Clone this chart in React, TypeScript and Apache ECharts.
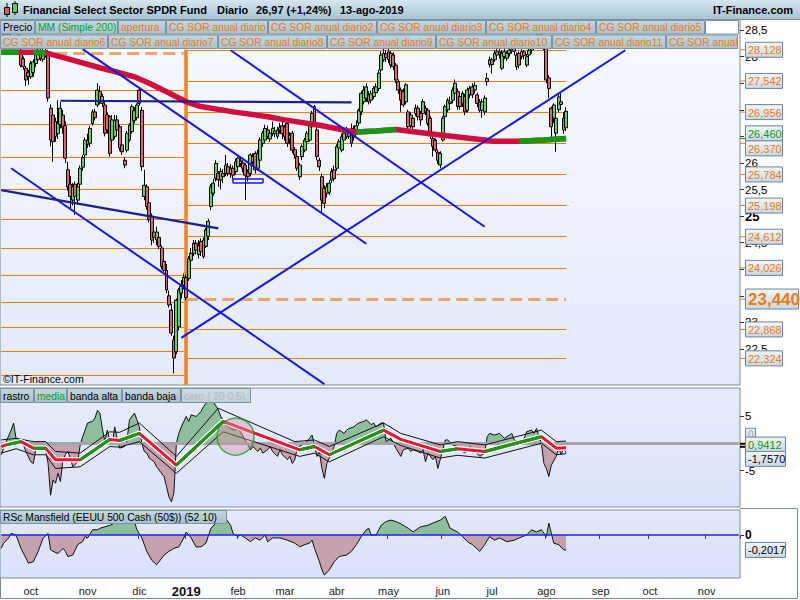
import React, { useEffect, useRef, useState } from 'react';
import * as echarts from 'echarts';

// ---------------- categories (trading days) ----------------
const FIRST_DAY = '2018-09-13';
const LAST_DAY = '2019-11-20';
const HOLIDAYS = ['2018-11-22', '2018-12-05', '2018-12-25', '2019-01-01', '2019-01-21', '2019-02-18', '2019-04-19', '2019-05-27', '2019-07-04', '2019-09-02'];
const MONTH_ABBR = ['ene', 'feb', 'mar', 'abr', 'may', 'jun', 'jul', 'ago', 'sep', 'oct', 'nov', 'dic'];

// ---------------- price candles [open, close, low, high] ----------------
const OHLC_SEP_OCT = [
  [28.35, 28.45, 28.25, 28.55], [28.45, 28.5, 28.35, 28.6], [28.5, 28.4, 28.3, 28.6], [28.4, 28.6, 28.35, 28.65],
  [28.6, 28.75, 28.55, 28.85], [28.75, 28.8, 28.65, 28.95], [28.8, 28.65, 28.55, 28.9], [28.6, 28.4, 28.3, 28.65],
  [28.12, 27.84, 27.8, 28.2], [27.96, 27.81, 27.75, 28.0], [27.78, 27.56, 27.45, 27.82], [27.7, 27.62, 27.47, 27.75],
  [27.62, 27.87, 27.58, 27.92], [27.7, 27.9, 27.62, 27.95], [27.87, 28.06, 27.8, 28.12], [27.94, 28.12, 27.9, 28.2],
  [28.1, 27.97, 27.92, 28.18], [27.95, 28.09, 27.9, 28.15], [28.05, 28.12, 27.98, 28.2], [28.06, 27.22, 27.15, 28.1],
  [27.03, 26.43, 26.31, 27.1], [26.9, 26.4, 26.02, 26.95], [26.5, 26.78, 26.4, 26.85], [26.55, 26.74, 26.45, 27.18],
  [26.72, 27.03, 26.65, 27.15], [26.9, 26.66, 26.55, 27.0], [26.7, 26.09, 26.0, 26.78], [25.87, 25.55, 25.48, 26.02],
  [25.6, 25.37, 25.15, 25.75], [25.3, 25.55, 25.2, 25.62], [25.6, 25.37, 25.02, 25.65], [25.3, 25.55, 25.22, 25.62],
  [25.6, 25.9, 25.55, 25.95], [25.92, 26.1, 25.85, 26.15], [26.15, 26.43, 26.1, 26.48],
];
const OHLC_NOV_DEC = [
  [26.43, 26.35, 26.28, 26.55], [26.37, 26.65, 26.3, 26.7], [26.74, 26.96, 26.7, 27.0], [26.96, 26.85, 26.8, 27.02],
  [27.09, 27.37, 27.05, 27.5], [27.34, 27.15, 27.1, 27.45], [27.12, 27.25, 27.05, 27.3], [27.09, 26.56, 26.5, 27.15],
  [26.9, 26.62, 26.55, 26.95], [26.87, 26.18, 26.12, 26.9], [26.43, 26.81, 26.35, 26.9], [26.5, 26.8, 26.45, 26.9],
  [26.81, 26.62, 26.55, 26.9], [26.68, 26.28, 26.22, 26.72], [26.34, 26.21, 26.15, 26.4], [26.05, 25.96, 25.9, 26.1],
  [26.24, 26.56, 26.2, 26.6], [26.43, 26.71, 26.4, 26.75], [26.59, 27.06, 26.55, 27.1], [26.8, 26.98, 26.74, 27.05],
  [26.85, 27.09, 26.8, 27.12], [27.37, 27.12, 27.08, 27.43], [26.99, 25.93, 25.85, 27.05], [25.37, 25.58, 25.3, 25.87],
  [25.55, 25.18, 25.12, 25.6], [25.25, 24.93, 24.88, 25.3], [25.0, 24.55, 24.45, 25.05], [24.7, 24.6, 24.5, 24.9],
  [24.55, 24.7, 24.45, 24.8], [24.6, 24.43, 24.38, 24.65], [24.4, 24.05, 24.0, 24.45], [24.15, 23.98, 23.92, 24.3],
  [23.98, 23.61, 23.55, 24.1], [23.5, 23.33, 23.28, 23.6], [23.23, 22.8, 22.75, 23.35], [22.67, 22.33, 22.04, 22.75],
  [22.45, 23.42, 22.4, 23.45], [22.92, 23.61, 22.85, 23.65], [23.55, 23.68, 23.45, 23.8], [23.7, 23.85, 23.62, 23.92],
];
const OHLC_JAN_MAR = [
  [23.84, 23.47, 23.42, 23.9], [23.83, 24.2, 23.78, 24.25], [24.17, 24.3, 24.1, 24.4], [24.3, 24.49, 24.25, 24.55],
  [24.49, 24.36, 24.28, 24.55], [24.28, 24.45, 24.2, 24.55], [24.52, 24.33, 24.25, 24.58], [24.24, 24.55, 24.2, 24.6],
  [24.43, 24.74, 24.4, 24.78], [24.62, 24.9, 24.55, 24.95], [25.18, 25.55, 25.11, 25.6], [25.43, 25.62, 25.38, 25.7],
  [25.71, 25.99, 25.65, 26.05], [25.8, 25.68, 25.55, 25.85], [25.68, 25.84, 25.5, 25.9], [25.8, 25.74, 25.62, 25.88],
  [25.8, 25.96, 25.75, 26.15], [25.93, 25.8, 25.75, 26.0], [25.8, 25.9, 25.72, 25.98], [25.9, 25.77, 25.7, 25.95],
  [25.84, 26.02, 25.78, 26.08], [25.93, 26.09, 25.88, 26.12], [26.04, 25.99, 25.92, 26.1], [26.0, 25.9, 25.82, 26.05],
  [25.96, 25.77, 25.3, 26.0], [25.83, 25.74, 25.65, 25.88], [25.8, 26.15, 25.75, 26.18], [26.02, 26.12, 25.98, 26.18],
  [26.18, 25.87, 25.8, 26.22], [25.9, 26.18, 25.85, 26.25], [26.05, 26.43, 26.0, 26.48], [26.37, 26.56, 26.3, 26.6],
  [26.43, 26.65, 26.4, 26.72], [26.62, 26.5, 26.45, 26.7], [26.45, 26.56, 26.4, 26.62], [26.55, 26.65, 26.5, 26.78],
  [26.55, 26.6, 26.48, 26.68], [26.5, 26.62, 26.45, 26.68], [26.62, 26.66, 26.55, 26.75], [26.7, 26.55, 26.45, 26.78],
  [26.68, 26.5, 26.42, 26.72], [26.74, 26.37, 26.3, 26.78], [26.45, 26.52, 26.35, 26.58], [26.56, 26.24, 26.18, 26.6],
  [26.25, 26.15, 26.08, 26.3], [26.12, 25.9, 25.85, 26.15], [25.74, 25.96, 25.68, 26.0], [26.12, 26.31, 26.05, 26.35],
  [26.24, 26.43, 26.2, 26.47], [26.4, 26.56, 26.35, 26.6], [26.43, 26.74, 26.4, 26.78], [26.68, 26.93, 26.62, 26.98],
  [27.06, 26.74, 26.7, 27.09], [26.62, 26.12, 26.05, 26.68], [26.05, 25.93, 25.85, 26.1], [25.74, 25.3, 25.08, 25.8],
  [25.52, 25.24, 25.15, 25.58], [25.43, 25.55, 25.35, 25.62], [25.45, 25.62, 25.4, 25.68], [25.68, 25.84, 25.62, 25.9],
  [25.87, 25.7, 25.65, 25.95],
];
const OHLC_APR_JUN = [
  [25.9, 26.31, 25.85, 26.35], [26.28, 26.4, 26.22, 26.45], [26.24, 26.49, 26.2, 26.55], [26.43, 26.56, 26.38, 26.62],
  [26.62, 26.49, 26.45, 26.68], [26.5, 26.55, 26.45, 26.62], [26.52, 26.37, 26.3, 26.74], [26.49, 26.65, 26.42, 26.7],
  [26.62, 26.7, 26.55, 26.8], [26.75, 26.99, 26.7, 27.02], [26.96, 27.31, 26.9, 27.35], [27.15, 27.37, 27.1, 27.45],
  [27.22, 27.43, 27.15, 27.5], [27.28, 27.15, 27.1, 27.35], [27.18, 27.3, 27.12, 27.36], [27.25, 27.4, 27.2, 27.45],
  [27.32, 27.43, 27.28, 27.5], [27.4, 27.69, 27.35, 27.75], [27.75, 28.03, 27.7, 28.1], [27.94, 28.06, 27.9, 28.15],
  [28.05, 27.98, 27.9, 28.12], [28.09, 27.94, 27.88, 28.15], [27.84, 28.06, 27.78, 28.1], [28.03, 27.81, 27.75, 28.08],
  [27.84, 27.56, 27.5, 27.88], [27.53, 27.37, 27.3, 27.57], [27.37, 27.18, 26.96, 27.42], [27.34, 27.09, 27.05, 27.4],
  [27.15, 27.47, 27.1, 27.5], [26.96, 26.68, 26.6, 27.0], [26.71, 26.9, 26.65, 26.95], [26.84, 26.68, 26.55, 26.88],
  [26.93, 27.03, 26.88, 27.1], [27.03, 26.87, 26.8, 27.08], [26.93, 26.81, 26.7, 26.98], [26.93, 27.15, 26.88, 27.2],
  [27.03, 26.96, 26.9, 27.08], [26.99, 26.74, 26.7, 27.03], [26.84, 26.55, 26.45, 26.88], [26.46, 26.31, 26.12, 26.5],
  [26.43, 26.24, 26.2, 26.46], [26.2, 26.05, 25.98, 26.25], [25.96, 26.18, 25.9, 26.22], [26.43, 26.84, 26.4, 26.88],
  [26.87, 27.06, 26.82, 27.1], [27.0, 27.18, 26.95, 27.22], [27.15, 27.12, 27.05, 27.25], [27.18, 27.37, 27.12, 27.42],
  [27.31, 27.5, 27.25, 27.57], [27.34, 27.06, 27.0, 27.4], [27.25, 27.06, 27.0, 27.3], [27.12, 27.31, 27.05, 27.35],
  [27.25, 26.96, 26.9, 27.3], [26.99, 27.37, 26.95, 27.42], [27.28, 27.4, 27.22, 27.45], [27.43, 27.28, 27.22, 27.5],
  [27.37, 27.46, 27.3, 27.52], [27.28, 27.12, 27.05, 27.32], [27.15, 26.99, 26.95, 27.2], [26.99, 27.15, 26.85, 27.2],
  [26.96, 27.22, 26.9, 27.27], [27.53, 27.59, 27.45, 27.69], [27.85, 27.94, 27.8, 28.0],
];
const OHLC_JUL_AUG = [
  [27.94, 27.85, 27.68, 27.98], [27.94, 28.06, 27.9, 28.12], [28.03, 28.09, 27.98, 28.15], [28.09, 28.04, 27.96, 28.14],
  [27.78, 28.06, 27.75, 28.12], [28.0, 28.09, 27.95, 28.15], [27.97, 28.06, 27.92, 28.1], [28.06, 28.12, 28.0, 28.2],
  [28.12, 28.16, 28.05, 28.22], [28.16, 28.1, 28.02, 28.2], [27.81, 28.03, 27.75, 28.08], [28.06, 27.84, 27.78, 28.1],
  [28.0, 28.09, 27.95, 28.14], [28.09, 28.02, 27.95, 28.12], [27.84, 28.0, 27.8, 28.05], [28.03, 28.12, 27.98, 28.18],
  [28.12, 28.22, 28.05, 28.3], [28.22, 28.32, 28.15, 28.4], [28.32, 28.28, 28.18, 28.42], [28.28, 28.38, 28.22, 28.45],
  [28.38, 28.3, 28.22, 28.45], [28.3, 28.19, 28.12, 28.38], [28.19, 27.56, 27.5, 28.3], [27.6, 27.4, 27.22, 27.65],
  [27.03, 26.68, 26.47, 27.06], [26.84, 27.09, 26.75, 27.12], [26.56, 26.84, 26.21, 26.88], [27.0, 27.24, 26.95, 27.3],
  [27.1, 27.15, 27.0, 27.31], [26.84, 26.62, 26.55, 26.95], [26.66, 26.97, 26.6, 27.05],
];

// ---------------- MM (Simple 200) [dayIndex, value] ----------------
const MA200 = [
  [0, 28.08], [7, 28.08], [13, 28.08], [18, 28.07], [26, 27.97], [40, 27.79], [46, 27.72], [54, 27.62], [60, 27.5],
  [67, 27.34], [75, 27.15], [81, 27.06], [94, 26.96], [108, 26.87], [115, 26.81], [129, 26.71], [142, 26.59],
  [144, 26.58], [152, 26.6], [160, 26.63], [177, 26.53], [196, 26.43], [199, 26.41], [210, 26.41], [220, 26.43], [229, 26.46],
];
const MA200_RISING = [[0, 7], [13, 18], [144, 160], [210, 229]];
const MA200_LAST = 26.46;

// ---------------- CG SOR levels ----------------
const LEVELS_2019 = [28.128, 27.542, 26.956, 26.37, 25.784, 25.198, 24.612, 24.026, 23.44, 22.868, 22.324];
const OPEN_LEVEL_2019 = 23.44;
const LEVELS_2018 = [28.06, 27.37, 26.73, 26.11, 25.5, 24.94, 24.39, 23.89, 23.38, 22.91, 22.46, 22.01];
const OPEN_LEVEL_2018 = 28.06;
const YEAR_START_INDEX = 75;
const LAST_INDEX = 229;

// ---------------- drawn trend lines [[i1, p1], [i2, p2]] ----------------
const BLUE_LINES = [
  [[93, 28.12], [196, 24.8]],
  [[33, 28.14], [148, 24.48]],
  [[4, 25.9], [131, 21.84]],
  [[73, 22.71], [253, 28.12]],
];
const NAVY_LINES = [
  [[0, 25.49], [88, 24.77]],
  [[24, 27.17], [142, 27.14]],
];
const BLUE_BOX = [[94, 25.71], [106, 25.62]];

// ---------------- middle panel: rastro / media / bands ----------------
const RASTRO = [
  [0, -2.1], [2, 0.3], [4, 2.4], [5, 3.7], [6, 0.9], [8, 0.6], [9, -0.3], [10, -1.5], [12, -3.4], [13, -3.7], [14, -1.2],
  [16, -0.6], [17, -0.9], [18, -1.2], [19, -3.7], [20, -9.5], [21, -6.7], [22, -7.3], [23, -5.5], [24, -7.0], [25, -3.0],
  [26, -2.1], [27, -1.5], [28, -2.7], [29, -4.3], [31, -3.4], [32, -0.3], [33, 1.2], [34, 2.4], [35, 3.7], [37, 4.0],
  [38, 4.6], [39, 6.0], [40, 5.5], [41, 2.7], [42, 0.3], [43, 2.4], [44, 0.6], [45, -0.3], [46, 3.0], [47, 0.9], [48, -0.9],
  [50, -0.6], [51, 0.6], [52, 4.3], [54, 5.5], [55, 4.3], [56, 3.0], [57, 0], [58, -1.5], [59, -1.8], [60, -2.7], [62, -3.4],
  [63, -4.3], [64, -4.9], [66, -6.1], [67, -7.9], [68, -9.8], [69, -10.7], [70, -9.1], [71, 0], [72, 1.8], [73, 3.0],
  [75, 4.9], [76, 4.0], [77, 5.2], [79, 4.9], [81, 5.8], [82, 6.7], [84, 7.9], [86, 7.6], [88, 6.1], [89, 4.9], [91, 3.4],
  [93, 2.7], [95, 2.4], [96, 2.7], [97, 2.1], [100, -0.3], [101, -1.2], [102, -0.6], [104, -1.5], [105, -0.9], [106, -1.8],
  [108, -1.2], [109, -0.6], [110, -1.5], [112, -2.4], [113, -1.2], [114, -2.1], [116, -3.0], [117, -2.4], [118, -3.7],
  [119, -3.0], [120, -0.9], [122, -0.3], [123, 0], [125, 0.9], [126, 1.5], [127, -0.3], [128, -2.4], [129, -1.5], [130, -4.6],
  [131, -6.4], [132, -3.7], [133, -2.7], [135, -0.6], [136, 1.8], [137, 2.4], [139, 1.8], [140, 2.4], [141, 2.7], [143, 3.0],
  [144, 3.4], [145, 3.7], [147, 4.0], [148, 4.3], [150, 3.4], [151, 3.7], [152, 3.0], [154, 3.7], [155, 3.7], [156, 0.3],
  [158, 0.9], [159, 0], [160, -0.9], [162, -2.4], [163, -1.2], [165, -0.9], [166, -1.5], [167, -1.2], [169, -1.5], [170, -1.8],
  [171, -1.2], [172, -3.4], [173, -1.8], [175, -3.0], [176, -2.4], [177, -4.6], [179, -1.2], [180, 0.6], [181, 0.6], [183, -0.3],
  [185, -0.6], [186, -1.2], [188, -1.8], [190, -0.6], [192, -1.5], [194, -2.4], [196, -1.8], [197, 1.2], [198, 1.8], [200, 1.5],
  [202, 1.8], [204, 0.9], [206, 1.5], [207, 1.8], [208, 0.6], [210, 0], [212, 0.9], [213, 2.1], [215, 2.4], [216, 1.8],
  [217, 2.7], [218, 1.2], [219, 0], [220, -3.7], [221, -4.6], [222, -6.1], [223, -4.0], [225, -2.4], [226, -0.9], [227, -2.1],
  [228, -0.9], [229, -1.757],
];
const MEDIA = [
  [0, -0.6], [2, -0.3], [6, 0.1], [8, 0.3], [13, -0.9], [18, -0.9], [22, -3.0], [32, -3.0], [44, 0.7], [48, 0.5], [56, 1.8],
  [71, -4.0], [90, 4.0], [121, -1.2], [127, -0.6], [133, -2.1], [155, 2.4], [162, 0.7], [178, -1.5], [185, -1.0], [196, -1.5],
  [219, 1.2], [225, -0.9], [229, -0.8],
];
const MEDIA_RISING = [[2, 8], [13, 18], [32, 44], [48, 56], [71, 90], [121, 127], [133, 155], [178, 185], [196, 219]];
const BANDA_ALTA = [
  [0, 0.6], [6, 0.9], [13, 0.3], [18, 0.3], [22, -1.5], [32, -1.8], [44, 2.1], [48, 2.0], [56, 3.7], [71, -2.4], [88, 6.4],
  [119, 0.3], [127, 0.6], [133, -0.6], [155, 3.7], [162, 1.8], [178, -0.3], [185, 0.3], [196, -0.3], [219, 2.4], [225, 0.3], [229, 0.4],
];
const BANDA_BAJA = [
  [0, -1.8], [6, -1.0], [13, -2.1], [18, -2.1], [22, -4.6], [32, -4.3], [44, -0.6], [48, -0.7], [56, 0.3], [71, -5.5], [90, 2.1],
  [121, -2.4], [127, -1.8], [133, -3.4], [155, 1.2], [162, -0.4], [178, -2.7], [185, -2.2], [196, -2.7], [219, 0], [225, -2.1], [229, -1.9],
];
const CIRCLE_MARK = [[95, 1.2]];
const MEDIA_LAST_LABEL = 0.9412;
const RASTRO_LAST = -1.757;

// ---------------- bottom panel: RSc Mansfield ----------------
const MANSFIELD = [
  [0, -0.18], [1, -0.11], [3, -0.04], [4, 0.02], [6, 0], [8, -0.18], [10, -0.31], [11, -0.38], [13, -0.36], [15, -0.22],
  [17, -0.04], [19, 0.02], [20, -0.2], [21, -0.22], [23, -0.25], [25, -0.18], [26, -0.22], [27, -0.29], [29, -0.27], [30, -0.2],
  [31, -0.13], [33, -0.09], [34, -0.02], [35, -0.04], [37, 0.07], [39, 0.07], [40, 0.09], [42, 0.11], [44, 0.13], [46, 0.16],
  [48, 0.2], [50, 0.25], [52, 0.27], [54, 0.18], [55, 0.07], [57, -0.04], [59, -0.22], [61, -0.34], [63, -0.4], [64, -0.36],
  [66, -0.27], [68, -0.22], [70, -0.18], [72, -0.16], [74, -0.04], [75, 0.04], [77, -0.04], [79, -0.16], [81, -0.16], [83, -0.11],
  [85, 0.09], [87, 0.16], [89, 0.2], [91, 0.22], [93, 0.13], [94, 0.02], [96, -0.02], [97, 0], [99, -0.04], [101, -0.09],
  [103, -0.04], [105, -0.07], [107, 0], [108, -0.09], [110, -0.04], [113, -0.04], [116, -0.07], [119, -0.11], [121, -0.16],
  [123, -0.13], [125, -0.11], [126, -0.07], [127, -0.18], [129, -0.36], [130, -0.47], [131, -0.54], [133, -0.47], [135, -0.36],
  [137, -0.29], [140, -0.27], [142, -0.22], [144, -0.13], [146, -0.02], [148, 0.07], [149, 0.09], [150, 0], [152, 0], [154, 0.13],
  [156, 0.18], [158, 0.2], [160, 0.18], [162, 0.15], [165, 0.09], [167, 0.04], [170, 0.11], [173, 0.13], [175, 0.16], [178, 0.2],
  [180, 0.25], [182, 0.09], [185, 0.04], [187, -0.02], [189, -0.09], [191, -0.13], [194, -0.22], [196, -0.13], [198, -0.02],
  [200, -0.07], [202, -0.04], [205, -0.09], [208, -0.07], [210, -0.04], [213, 0], [215, 0.07], [217, 0.04], [219, 0.07],
  [221, -0.02], [222, 0.16], [224, -0.11], [226, -0.13], [228, -0.2], [229, -0.2017],
];
const MANSFIELD_LAST = -0.2017;

// ---------------- axes ----------------
const PRICE_MIN = 21.823;
const PRICE_MAX = 28.726;
const PRICE_TICKS = [22.5, 23, 23.5, 24, 24.5, 25, 25.5, 26, 26.5, 27, 27.5, 28, 28.5];
// tick labels that stay visible beside the value boxes
const PRICE_TICK_LABELS = [22.5, 23, 24.5, 25, 25.5, 26, 28, 28.5];
const OSC_MIN = -11.65;
const OSC_MAX = 10.1;
const OSC_TICKS = [5, -5];
const RS_MIN = -0.579;
const RS_MAX = 0.336;

// ---------------- text ----------------
const TITLE_PARTS = [[23, 'Financial Select Sector SPDR Fund'], [217, 'Diario'], [256, '26,97 (+1,24%)'], [340, '13-ago-2019']];
const LEGEND_ROW1 = [
  [0, 35, 'Precio', '#000'], [35, 118, 'MM (Simple 200)', '#14a014'], [118, 166, 'apertura', '#f07a12'],
  [166, 268, 'CG SOR anual diario', '#f07a12'], [268, 377, 'CG SOR anual diario2', '#f07a12'],
  [377, 486, 'CG SOR anual diario3', '#f07a12'], [486, 596, 'CG SOR anual diario4', '#f07a12'],
  [596, 705, 'CG SOR anual diario5', '#f07a12'],
];
const LEGEND_ROW2 = [
  [0, 108, 'CG SOR anual diario6'], [108, 218, 'CG SOR anual diario7'], [218, 327, 'CG SOR anual diario8'],
  [327, 436, 'CG SOR anual diario9'], [436, 552, 'CG SOR anual diario10'], [552, 666, 'CG SOR anual diario11'],
  [666, 738, 'CG SOR anual'],
];
const LEGEND_MID = [
  [0, 34, 'rastro', '#000'], [34, 67, 'media', '#14a014'], [67, 122, 'banda alta', '#000'], [122, 181, 'banda baja', '#000'],
];

const FONT = '"Liberation Sans", Arial, Helvetica, sans-serif';
const ORANGE = '#f07a12';
const UP = '#5fd35f';
const DOWN = '#dc6471';
const MA_RED = '#cf0f3e';
const MA_GREEN = '#129a12';
const BLUE = '#1515ee';
const NAVY = '#1e1e8c';
const FILL_GREEN = '#8dbf9d';
const FILL_PINK = '#c5a1ad';

function buildDays(): string[] {
  const out: string[] = [];
  const d = new Date(FIRST_DAY + 'T00:00:00Z');
  const end = new Date(LAST_DAY + 'T00:00:00Z').getTime();
  while (d.getTime() <= end) {
    const s = d.toISOString().slice(0, 10);
    const wd = d.getUTCDay();
    if (wd > 0 && wd < 6 && HOLIDAYS.indexOf(s) < 0) out.push(s);
    d.setUTCDate(d.getUTCDate() + 1);
  }
  return out;
}
const DAYS = buildDays();
const MONTH_START = new Set<number>();
DAYS.forEach((d, i) => {
  if (i > 0 && d.slice(5, 7) !== DAYS[i - 1].slice(5, 7)) MONTH_START.add(i);
});
const CANDLES = [...OHLC_SEP_OCT, ...OHLC_NOV_DEC, ...OHLC_JAN_MAR, ...OHLC_APR_JUN, ...OHLC_JUL_AUG];

const grad = (a: string, b: string) =>
  new echarts.graphic.LinearGradient(0, 0, 0, 1, [{ offset: 0, color: a }, { offset: 1, color: b }]);
const within = (pts: number[][], r: number[]) => pts.filter((p) => p[0] >= r[0] && p[0] <= r[1]);
const comma = (v: number, d: number) => v.toFixed(d).replace('.', ',');
const seg = (a: number[], b: number[], lineStyle: any) => [
  { coord: [a[0], a[1]], lineStyle },
  { coord: [b[0], b[1]] },
];
const signPieces = (lo: number, hi: number) => [
  { gte: lo, lte: 0, color: FILL_PINK },
  { gt: 0, lte: hi, color: FILL_GREEN },
];

function buildOption() {
  const series: any[] = [];
  const hidden = { show: false };
  const solidOrange = { color: ORANGE, width: 1, type: 'solid' };
  const dashOrange = { color: 'rgba(242,130,45,0.7)', width: 3, type: 'dashed' };

  // levels (attached to the candlestick series)
  const levelLines: any[] = [];
  LEVELS_2019.forEach((v) =>
    levelLines.push(seg([YEAR_START_INDEX, v], [LAST_INDEX, v], v === OPEN_LEVEL_2019 ? dashOrange : solidOrange)),
  );
  LEVELS_2018.forEach((v) =>
    levelLines.push(seg([0, v], [YEAR_START_INDEX - 1, v], v === OPEN_LEVEL_2018 ? dashOrange : solidOrange)),
  );
  levelLines.push(seg([YEAR_START_INDEX, LEVELS_2019[0]], [YEAR_START_INDEX, PRICE_MIN], { color: '#f3831f', width: 3.5, type: 'solid' }));

  series.push({
    type: 'candlestick', xAxisIndex: 0, yAxisIndex: 0, data: CANDLES, z: 3, barWidth: 3.4,
    itemStyle: { color: UP, color0: DOWN, borderColor: '#000', borderColor0: '#000', borderWidth: 1 },
    markLine: { silent: true, z: 1, symbol: ['none', 'none'], label: hidden, data: levelLines },
  });

  // trend lines (attached to the MA series)
  const boxStyle = { color: BLUE, width: 1.5, type: 'solid' };
  const [b0, b1] = BLUE_BOX;
  const trend = [
    ...BLUE_LINES.map((l) => seg(l[0], l[1], { color: BLUE, width: 2, type: 'solid' })),
    ...NAVY_LINES.map((l) => seg(l[0], l[1], { color: NAVY, width: 2.2, type: 'solid' })),
    seg([b0[0], b0[1]], [b1[0], b0[1]], boxStyle),
    seg([b1[0], b0[1]], [b1[0], b1[1]], boxStyle),
    seg([b1[0], b1[1]], [b0[0], b1[1]], boxStyle),
    seg([b0[0], b1[1]], [b0[0], b0[1]], boxStyle),
  ];
  series.push({
    type: 'line', xAxisIndex: 0, yAxisIndex: 0, data: MA200, showSymbol: false, z: 4,
    lineStyle: { color: MA_RED, width: 5.5 },
    markLine: { silent: true, z: 6, symbol: ['none', 'none'], label: hidden, data: trend },
  });
  MA200_RISING.forEach((r) =>
    series.push({
      type: 'line', xAxisIndex: 0, yAxisIndex: 0, data: within(MA200, r), showSymbol: false, z: 4,
      lineStyle: { color: MA_GREEN, width: 5.5 },
    }),
  );

  // middle panel
  series.push({
    type: 'line', xAxisIndex: 1, yAxisIndex: 1, data: BANDA_ALTA, showSymbol: false, z: 3,
    lineStyle: { color: '#111', width: 1 },
  });
  series.push({
    type: 'line', xAxisIndex: 1, yAxisIndex: 1, data: BANDA_BAJA, showSymbol: false, z: 3,
    lineStyle: { color: '#111', width: 1 },
  });
  const rastroIdx = series.length;
  series.push({
    type: 'line', xAxisIndex: 1, yAxisIndex: 1, data: RASTRO, showSymbol: false, z: 2,
    lineStyle: { color: '#111', width: 1 }, areaStyle: { opacity: 1 },
    markLine: {
      silent: true, z: 3, symbol: ['none', 'none'], label: hidden,
      data: [seg([0, 0], [DAYS.length - 1, 0], { color: '#a4a4a4', width: 3, type: 'solid' })],
    },
  });
  series.push({
    type: 'line', xAxisIndex: 1, yAxisIndex: 1, data: MEDIA, showSymbol: false, z: 4,
    lineStyle: { color: '#ffffff', width: 5.5 },
  });
  series.push({
    type: 'line', xAxisIndex: 1, yAxisIndex: 1, data: MEDIA, showSymbol: false, z: 4,
    lineStyle: { color: '#ee1230', width: 3 },
  });
  MEDIA_RISING.forEach((r) =>
    series.push({
      type: 'line', xAxisIndex: 1, yAxisIndex: 1, data: within(MEDIA, r), showSymbol: false, z: 4,
      lineStyle: { color: MA_GREEN, width: 3 },
    }),
  );
  series.push({
    type: 'scatter', xAxisIndex: 1, yAxisIndex: 1, data: CIRCLE_MARK, symbolSize: 37, z: 5, silent: true,
    itemStyle: { color: 'rgba(215,150,165,0.55)', borderColor: '#1d9a2a', borderWidth: 1.5 },
  });

  // bottom panel
  const rsIdx = series.length;
  series.push({
    type: 'line', xAxisIndex: 2, yAxisIndex: 2, data: MANSFIELD, showSymbol: false, z: 2,
    lineStyle: { color: '#111', width: 1 }, areaStyle: { opacity: 1 },
    markLine: {
      silent: true, z: 3, symbol: ['none', 'none'], label: hidden,
      data: [seg([0, 0], [DAYS.length - 1, 0], { color: '#2222ee', width: 1.5, type: 'solid' })],
    },
  });

  const xBase = (gridIndex: number) => ({
    type: 'category', gridIndex, data: DAYS, boundaryGap: true,
    axisLine: { show: false }, splitLine: { show: false }, axisTick: { show: false }, axisLabel: { show: false },
  });

  return {
    animation: false,
    backgroundColor: '#ffffff',
    textStyle: { fontFamily: FONT },
    grid: [
      { left: 0, top: 18, width: 740, height: 367, show: true, backgroundColor: grad('#f8faff', '#e3eafb'), borderColor: '#7b8c98', borderWidth: 1 },
      { left: 0, top: 388, width: 740, height: 119, show: true, backgroundColor: grad('#e6ecfc', '#dbe3fa'), borderColor: '#7b8c98', borderWidth: 1 },
      { left: 0, top: 510, width: 740, height: 68, show: true, backgroundColor: grad('#e2e8fb', '#dae2fa'), borderColor: '#7b8c98', borderWidth: 1 },
    ],
    xAxis: [
      xBase(0),
      xBase(1),
      {
        ...xBase(2),
        axisTick: { show: true, length: 4, interval: (i: number) => MONTH_START.has(i), lineStyle: { color: '#444' } },
        axisLabel: {
          show: true, interval: (i: number) => MONTH_START.has(i), color: '#222', fontSize: 11, margin: 7, fontFamily: FONT,
          formatter: (v: string) => {
            const m = parseInt(v.slice(5, 7), 10) - 1;
            return m === 0 ? `{y|${v.slice(0, 4)}}` : MONTH_ABBR[m];
          },
          rich: { y: { fontWeight: 'bold', fontSize: 13, color: '#111', fontFamily: FONT } },
        },
      },
    ],
    yAxis: [
      {
        type: 'value', gridIndex: 0, position: 'right', min: PRICE_MIN, max: PRICE_MAX,
        axisLine: { show: false }, splitLine: { show: false },
        axisTick: { show: true, customValues: PRICE_TICKS, length: 4, lineStyle: { color: '#333' } },
        axisLabel: {
          customValues: PRICE_TICK_LABELS, color: '#000', fontSize: 11.5, margin: 5, fontFamily: FONT,
          formatter: (v: number) => (v === 25 ? '{b|25}' : String(v).replace('.', ',')),
          rich: { b: { fontWeight: 'bold', fontSize: 13, color: '#000', fontFamily: FONT } },
        },
      },
      {
        type: 'value', gridIndex: 1, position: 'right', min: OSC_MIN, max: OSC_MAX,
        axisLine: { show: false }, splitLine: { show: false },
        axisTick: { show: true, customValues: OSC_TICKS, length: 4, lineStyle: { color: '#333' } },
        axisLabel: { customValues: OSC_TICKS, color: '#000', fontSize: 11.5, margin: 5, fontFamily: FONT, formatter: (v: number) => String(v) },
      },
      {
        type: 'value', gridIndex: 2, position: 'right', min: RS_MIN, max: RS_MAX,
        axisLine: { show: false }, splitLine: { show: false },
        axisTick: { show: true, customValues: [0], length: 4, lineStyle: { color: '#333' } },
        axisLabel: { customValues: [0], color: '#000', fontSize: 12, fontWeight: 'bold', margin: 5, fontFamily: FONT, formatter: () => '0' },
      },
    ],
    visualMap: [
      { type: 'piecewise', show: false, seriesIndex: rastroIdx, dimension: 1, pieces: signPieces(-50, 50), outOfRange: { color: FILL_PINK } },
      { type: 'piecewise', show: false, seriesIndex: rsIdx, dimension: 1, pieces: signPieces(-5, 5), outOfRange: { color: FILL_PINK } },
    ],
    series,
  };
}

function buildGraphic(chart: any) {
  const Z = 100;
  const els: any[] = [];
  const py = (axis: number, v: number) => chart.convertToPixel({ yAxisIndex: axis }, v) as number;
  const text = (x: number, y: number, t: string, fill: string, size: number, extra: any = {}) =>
    els.push({ type: 'text', x, y, z: Z + 2, silent: true, style: { text: t, fill, fontSize: size, fontFamily: FONT, verticalAlign: 'middle', align: 'left', ...extra } });
  const rect = (x: number, y: number, w: number, h: number, fill: any, stroke?: string, z = Z) =>
    els.push({ type: 'rect', z, silent: true, shape: { x, y, width: w, height: h }, style: { fill, stroke: stroke || 'none', lineWidth: 1 } });
  const line = (x1: number, y1: number, x2: number, y2: number, stroke: string, w = 1, z = Z) =>
    els.push({ type: 'line', z, silent: true, shape: { x1, y1, x2, y2 }, style: { stroke, lineWidth: w } });
  const cellFill = () => grad('#c4d7e0', '#a9c0cc');
  const boxFill = () => grad('#f1f6fb', '#c9d8e6');
  const cell = (x0: number, x1: number, y0: number, y1: number, label: string, color: string, fill?: any) => {
    rect(x0 + 0.5, y0 + 0.5, x1 - x0 - 1, y1 - y0 - 1, fill || cellFill(), '#7b94a3');
    if (label) text(x0 + 3, (y0 + y1) / 2 + 0.5, label, color, 10.3);
  };
  const box = (x: number, yc: number, w: number, h: number, label: string, color: string, size = 11, bold = false, z = Z + 3) => {
    els.push({ type: 'rect', z, silent: true, shape: { x: x + 0.5, y: yc - h / 2, width: w, height: h }, style: { fill: boxFill(), stroke: '#6c8595', lineWidth: 1 } });
    els.push({ type: 'text', x: x + 3, y: yc + 0.5, z: z + 1, silent: true, style: { text: label, fill: color, fontSize: size, fontWeight: bold ? 'bold' : 'normal', fontFamily: FONT, verticalAlign: 'middle' } });
  };

  // title bar
  rect(0, 0, 800, 19, grad('#d5e6ee', '#a7c3d1'));
  line(0, 19.5, 800, 19.5, '#7b94a3');
  line(7, 3, 7, 17, '#000', 1, Z + 1);
  rect(4.5, 7.5, 5, 7, '#e0585c', '#000', Z + 2);
  line(15, 1, 15, 15, '#000', 1, Z + 1);
  rect(12.5, 3.5, 5, 9, '#4fd04f', '#000', Z + 2);
  TITLE_PARTS.forEach(([x, t]) => text(x as number, 10, t as string, '#000', 11, { fontWeight: 'bold' }));
  text(793, 10, 'IT-Finance.com', '#000', 11, { align: 'right', fontWeight: 'bold' });

  // legend rows of the price panel
  LEGEND_ROW1.forEach(([a, b, t, c]) => cell(a as number, b as number, 20, 34.5, t as string, c as string));
  cell(705, 739, 20, 34.5, '', '#000', '#ffffff');
  LEGEND_ROW2.forEach(([a, b, t]) => cell(a as number, b as number, 34.5, 49, t as string, ORANGE));
  text(3, 379, '©IT-Finance.com', '#000', 10.6);

  // right-side value boxes of the price panel
  const labels: { v: number; y: number; color: string }[] = LEVELS_2019.filter((v) => v !== OPEN_LEVEL_2019).map((v) => ({ v, y: py(0, v), color: ORANGE }));
  labels.push({ v: MA200_LAST, y: py(0, MA200_LAST), color: '#129a12' });
  labels.sort((a, b) => a.y - b.y);
  for (let k = 1; k < labels.length; k++) {
    const gap = labels[k].y - labels[k - 1].y;
    if (gap < 15) {
      const d = (15 - gap) / 2;
      labels[k - 1].y -= d;
      labels[k].y += d;
    }
  }
  LEVELS_2019.forEach((v) => line(740, py(0, v), 745, py(0, v), ORANGE, 1, Z + 1));
  line(740, py(0, MA200_LAST), 745, py(0, MA200_LAST), '#129a12', 1, Z + 1);
  labels.forEach((l) => box(745, l.y, 37, 15, comma(l.v, 3), l.color));
  box(745, py(0, OPEN_LEVEL_2019), 53, 20, comma(OPEN_LEVEL_2019, 3), ORANGE, 17, true);

  // middle panel legend and value boxes
  LEGEND_MID.forEach(([a, b, t, c]) => cell(a as number, b as number, 388, 403, t as string, c as string));
  cell(181, 251, 388, 403, 'cero ( 20 0.5)', '#b3bdc5', grad('#cfdbe2', '#bfcfd8'));
  const y0 = py(1, 0);
  box(745, y0 - 9, 10, 12, '0', '#9aa3aa', 10, false, Z + 3);
  box(745, py(1, MEDIA_LAST_LABEL) + 6.5, 40, 15, comma(MEDIA_LAST_LABEL, 4), '#129a12', 11, false, Z + 5);
  box(745, py(1, RASTRO_LAST) + 6, 40, 15, comma(RASTRO_LAST, 4), '#000', 11, false, Z + 7);
  line(740, y0 + 0.5, 746, y0 + 0.5, '#000', 2, Z + 1);
  line(740, y0 + 3.5, 746, y0 + 3.5, '#000', 2, Z + 1);

  // bottom panel legend and value box
  cell(0, 227, 510, 524, 'RSc Mansfield (EEUU 500 Cash (50$)) (52 10)', '#000');
  box(745, py(2, MANSFIELD_LAST), 40, 15, comma(MANSFIELD_LAST, 4), '#000', 11);
  els.push({ type: 'polyline', z: Z, silent: true, shape: { points: [[740, 508.5], [797.5, 508.5], [797.5, 598.5], [0.5, 598.5], [0.5, 578]] }, style: { stroke: '#7b8c98', fill: 'none', lineWidth: 1 } });

  return els;
}

export default function App() {
  const ref = useRef<HTMLDivElement>(null);
  const [err, setErr] = useState('');
  useEffect(() => {
    const chart = echarts.init(ref.current as HTMLDivElement, null, { renderer: 'svg' });
    try {
      chart.setOption(buildOption() as any);
    } catch (e: any) {
      setErr('option: ' + String(e && e.stack ? e.stack : e).slice(0, 600));
    }
    try {
      chart.setOption({ graphic: buildGraphic(chart) } as any);
    } catch (e: any) {
      setErr((p) => p + ' | graphic: ' + String(e && e.stack ? e.stack : e).slice(0, 600));
    }
    return () => chart.dispose();
  }, []);
  return (
    <>
      <div ref={ref} style={{ position: 'fixed', left: 0, top: 0, width: 800, height: 600, background: '#fff' }} />
      {err ? <pre style={{ position: 'fixed', left: 0, top: 200, width: 780, whiteSpace: 'pre-wrap', fontSize: 10, color: 'red', zIndex: 10 }}>{err}</pre> : null}
    </>
  );
}
